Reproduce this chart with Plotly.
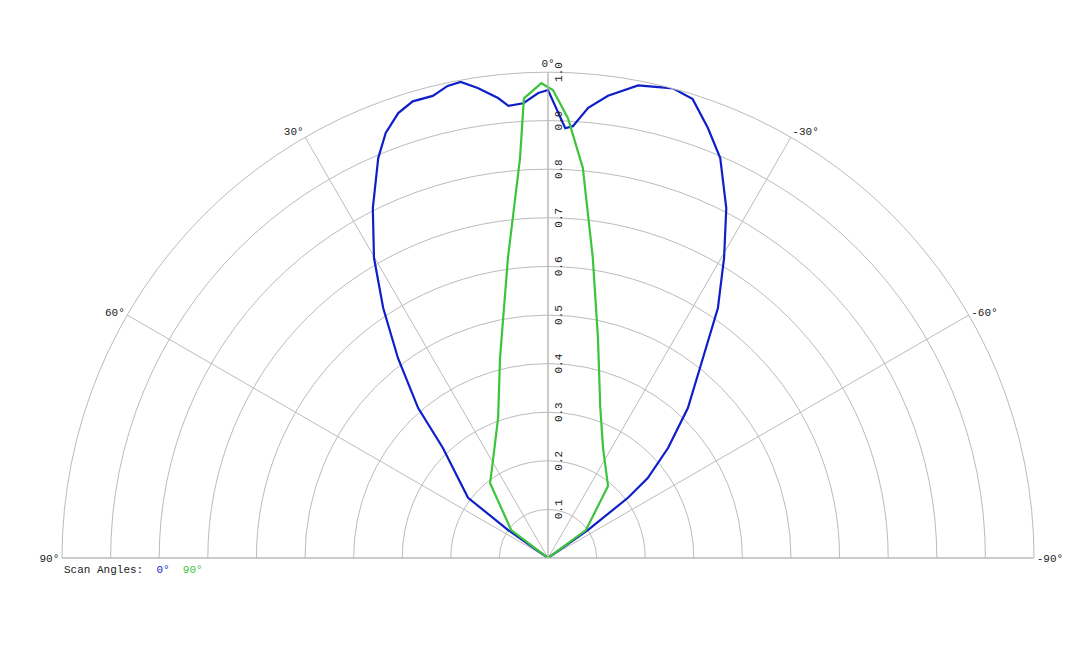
import plotly.graph_objects as go

blue_theta = [55, 53, 43.7, 40.9, 36.9, 33.4, 30.1, 26.6, 23, 20.9, 18.6, 16.5, 14, 12, 10.4, 8.5, 6.2, 5, 3.1, 1.2, 0,
              -2.3, -3.3, -5.1, -7.4, -10.8, -14.9, -17.5, -20.4, -23.3, -27, -30.4, -34.2, -37.8, -43, -47.5, -51.3, -53, -55]
blue_r = [0.1, 0.206, 0.313, 0.408, 0.514, 0.616, 0.714, 0.805, 0.894, 0.936, 0.966, 0.98, 0.98, 0.993, 0.996, 0.978, 0.952, 0.934, 0.937, 0.957, 0.963,
          0.885, 0.89, 0.93, 0.959, 0.99, 1.0, 0.99, 0.944, 0.896, 0.808, 0.716, 0.622, 0.52, 0.422, 0.335, 0.263, 0.206, 0.1]
green_theta = [52.9, 37.7, 31.9, 19.6, 13.5, 7.6, 4, 3, 0.8, -0.6, -2.6, -5.1, -8.5, -12.8, -19, -26.6, -39.8, -53.6]
green_r = [0.095, 0.195, 0.218, 0.306, 0.423, 0.623, 0.825, 0.947, 0.977, 0.963, 0.906, 0.806, 0.624, 0.464, 0.33, 0.253, 0.193, 0.097]
radial_ticks = [0.1, 0.2, 0.3, 0.4, 0.5, 0.6, 0.7, 0.8, 0.9, 1.0]
angle_ticks = [90, 60, 30, 0, -30, -60, -90]

font = "Liberation Mono, Courier New, monospace"
fig = go.Figure()
for th, rr, col in [(blue_theta, blue_r, "#0f1fc8"), (green_theta, green_r, "#3cc43c")]:
    fig.add_trace(go.Scatterpolar(theta=[t + 90 for t in [0] + th + [0]], r=[0] + rr + [0], mode="lines",
                                  line=dict(color=col, width=2.2), showlegend=False))
fig.update_layout(
    width=1080, height=648, paper_bgcolor="white",
    margin=dict(l=54, r=54, t=64, b=98),
    font=dict(family=font, size=11, color="#222"),
    polar=dict(
        sector=[0, 180], bgcolor="white",
        angularaxis=dict(rotation=0, direction="counterclockwise", tickmode="array",
                         tickvals=[a + 90 for a in angle_ticks], ticktext=[f"{a}°" for a in angle_ticks],
                         gridcolor="#bbbbbb", linecolor="#bbbbbb", showline=True, ticks=""),
        radialaxis=dict(range=[0, 1], angle=90, tickangle=0, tickmode="array", tickvals=radial_ticks,
                        ticktext=[f"{v:.1f}" for v in radial_ticks], gridcolor="#bbbbbb",
                        linecolor="#bbbbbb", showline=True, ticks="", side="clockwise"),
    ),
    annotations=[dict(x=0.0, y=-0.025, xref="paper", yref="paper", showarrow=False, xanchor="left", yanchor="middle",
                      text="Scan Angles:  <span style='color:#0f1fc8'>0°</span>  <span style='color:#3cc43c'>90°</span>",
                      font=dict(family=font, size=11))],
)
fig.write_html("out.html")
